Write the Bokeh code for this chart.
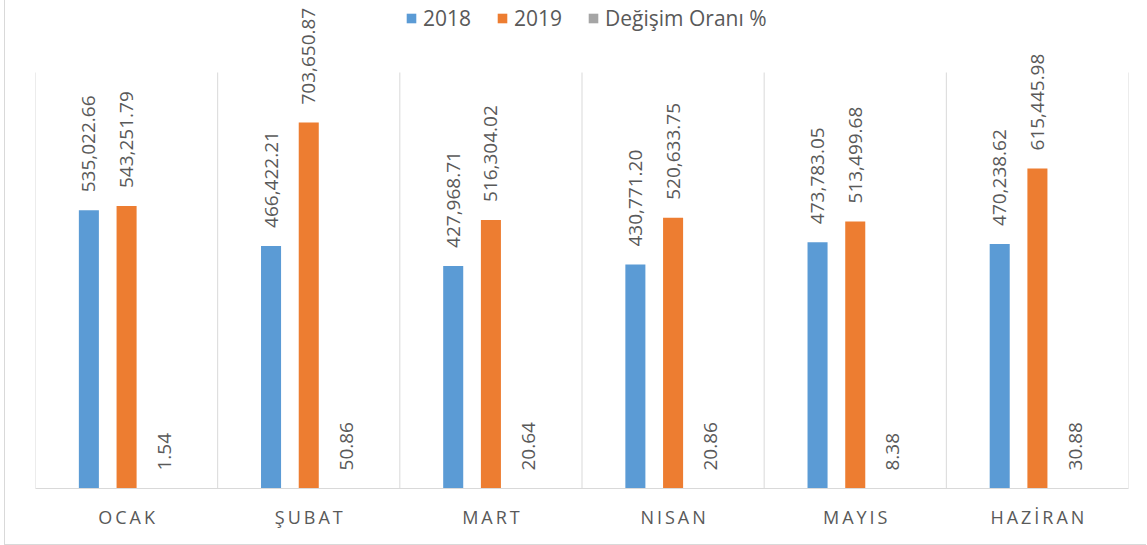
from bokeh.plotting import figure
from bokeh.models import ColumnDataSource, Range1d, FixedTicker, Legend, LegendItem
from bokeh.core.properties import value
from bokeh.transform import dodge
from bokeh.embed import file_html
from bokeh.resources import INLINE

months = ["OCAK", "ŞUBAT", "MART", "NISAN", "MAYIS", "HAZİRAN"]
v2018 = [535022.66, 466422.21, 427968.71, 430771.20, 473783.05, 470238.62]
v2019 = [543251.79, 703650.87, 516304.02, 520633.75, 513499.68, 615445.98]
change = [1.54, 50.86, 20.64, 20.86, 8.38, 30.88]
series_names = ["2018", "2019", "Değişim Oranı %"]
colors = ["#5b9bd5", "#ed7d31", "#a5a5a5"]
Y_MAX = 800000

FONT = "Open Sans"
TXT = "#595959"
GRID = "#d9d9d9"

# layout (pixels)
W, H = 1142, 545
FRAME_BOTTOM_BORDER = 57
FRAME_H = H - FRAME_BOTTOM_BORDER
PLOT_TOP = 72  # where Y_MAX sits, measured from the top
y_end = Y_MAX * FRAME_H / (FRAME_H - PLOT_TOP)

centers = [i + 0.5 for i in range(len(months))]
bounds = list(range(len(months) + 1))
src = ColumnDataSource(dict(
    x=centers,
    v2018=v2018, v2019=v2019, change=change,
    t2018=[f"{v:,.2f}" for v in v2018],
    t2019=[f"{v:,.2f}" for v in v2019],
    tchange=[f"{v:.2f}" for v in change],
))

p = figure(width=W, height=H, x_range=Range1d(0, len(months)), y_range=Range1d(0, y_end),
           output_backend="svg", toolbar_location=None,
           min_border_left=30, min_border_right=19, min_border_top=0,
           min_border_bottom=FRAME_BOTTOM_BORDER)
p.styles = {"margin-left": "4px", "border-left": "1px solid " + GRID,
            "border-bottom": "1px solid " + GRID}
p.outline_line_color = None
p.yaxis.visible = False
p.ygrid.visible = False
p.xgrid.visible = False

# category separators (vertical grid lines) up to the value-axis maximum
p.segment(x0=bounds, y0=[0] * len(bounds), x1=bounds, y1=[Y_MAX] * len(bounds),
          line_color=GRID, line_width=1)

ax = p.xaxis[0]
ax.ticker = FixedTicker(ticks=centers)
ax.bounds = (0, len(months))
ax.major_label_overrides = {c: "\u2009".join(m) for c, m in zip(centers, months)}
ax.axis_line_color = GRID
ax.major_tick_line_color = None
ax.minor_tick_line_color = None
ax.major_tick_out = 0
ax.major_tick_in = 0
ax.major_label_standoff = 16
ax.major_label_text_font = FONT
ax.major_label_text_font_size = "18px"
ax.major_label_text_color = TXT

offs = [-0.207, 0.0, 0.207]
fields = ["v2018", "v2019", "change"]
tfields = ["t2018", "t2019", "tchange"]
items = []
for name, f, tf, c, o in zip(series_names, fields, tfields, colors, offs):
    r = p.vbar(x=dodge("x", o), top=f, width=0.11, bottom=0, source=src,
               fill_color=c, line_color=None)
    items.append(LegendItem(label=name, renderers=[r]))
    p.text(x=dodge("x", o), y=f, text=tf, source=src, angle=1.5708,
           text_align="left", text_baseline="middle", y_offset=-18,
           text_font=value(FONT), text_font_size="19px", text_color=TXT)

legend = Legend(items=items, orientation="horizontal", location=(370, 456),
                label_text_font=FONT, label_text_font_size="21px", label_text_color=TXT,
                glyph_width=12, glyph_height=12, label_standoff=6, spacing=25,
                border_line_color=None, background_fill_alpha=0, padding=0, margin=0)
p.add_layout(legend)

open("out.html", "w").write(file_html(p, INLINE))
